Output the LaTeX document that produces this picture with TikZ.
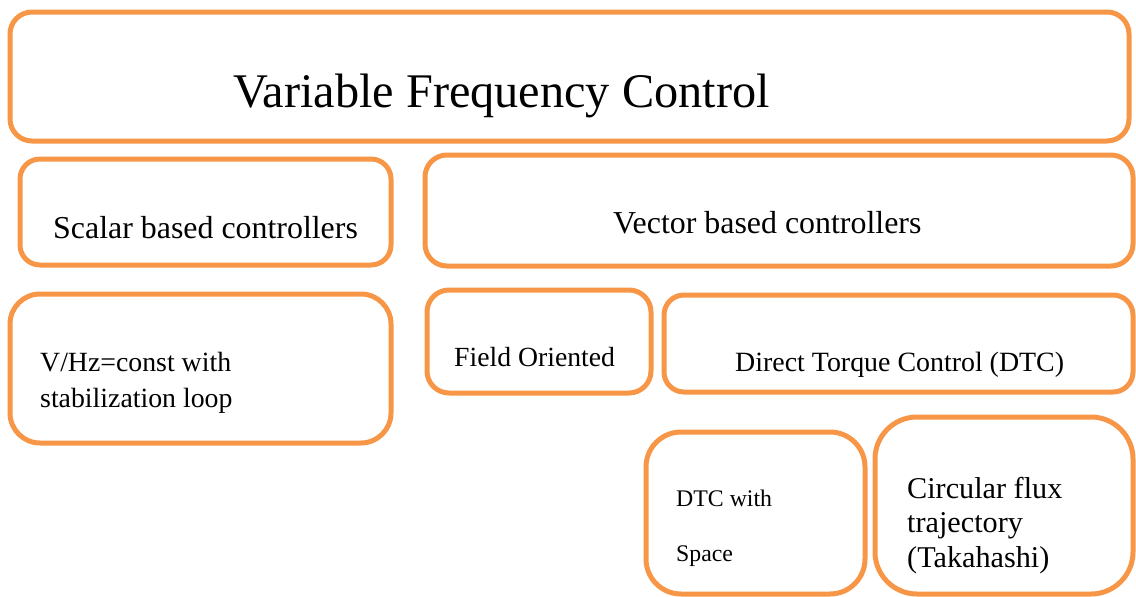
\documentclass[tikz,border=0pt]{standalone}
\usepackage{fontspec}
\setmainfont{Liberation Serif}
\usetikzlibrary{fit}
\definecolor{vfcorange}{HTML}{F79646}
\newcommand{\fsz}[1]{\fontsize{#1}{#1}\selectfont}
\tikzset{
  box/.style={draw=vfcorange, line width=5pt, rounded corners=#1, inner sep=0pt},
  box/.default=22pt,
  lbl/.style={inner sep=0pt, anchor=base west, text=black}
}
\begin{document}
\begin{tikzpicture}[x=1pt, y=-1pt]
  \useasboundingbox (0,0) rectangle (1136,597);

  % frames
  \node[box=22pt, fit={(10,12) (1129,141)}] (vfc) {};
  \node[box=20pt, fit={(20,159) (391,265)}] (scalar) {};
  \node[box=30pt, fit={(10,294) (391,443)}] (vhz) {};
  \node[box=22pt, fit={(425,155) (1133,266)}] (vector) {};
  \node[box=22pt, fit={(427,290) (651,393)}] (foc) {};
  \node[box=20pt, fit={(664,295) (1133,392)}] (dtc) {};
  \node[box=35pt, fit={(646,432) (865,594)}] (svm) {};
  \node[box=42pt, fit={(875,417) (1133,594)}] (circ) {};

  % labels
  \node[lbl, font=\fsz{48.3}] (vfct) at (233,107) {Variable Frequency Control};
  \node[lbl, font=\fsz{31.9}] (scalart) at (53,238) {Scalar based controllers};
  \node[lbl, font=\fsz{31.9}] (vectort) at (613,233) {Vector based controllers};
  \node[lbl, font=\fsz{27.8}] (vhzt1) at (40,371) {V/Hz=const with};
  \node[lbl, font=\fsz{27.8}] (vhzt2) at (40,407) {stabilization loop};
  \node[lbl, font=\fsz{27.7}] (foct) at (454,366) {Field Oriented};
  \node[lbl, font=\fsz{27.9}] (dtct) at (735,371) {Direct Torque Control (DTC)};
  \node[lbl, font=\fsz{23.8}] (svmt1) at (676,506) {DTC with};
  \node[lbl, font=\fsz{23.8}] (svmt2) at (676,561) {Space};
  \node[lbl, font=\fsz{30.2}] (circt1) at (907,498) {Circular flux};
  \node[lbl, font=\fsz{30.2}] (circt2) at (907,532) {trajectory};
  \node[lbl, font=\fsz{30.2}] (circt3) at (907,567) {(Takahashi)};
\end{tikzpicture}
\end{document}
